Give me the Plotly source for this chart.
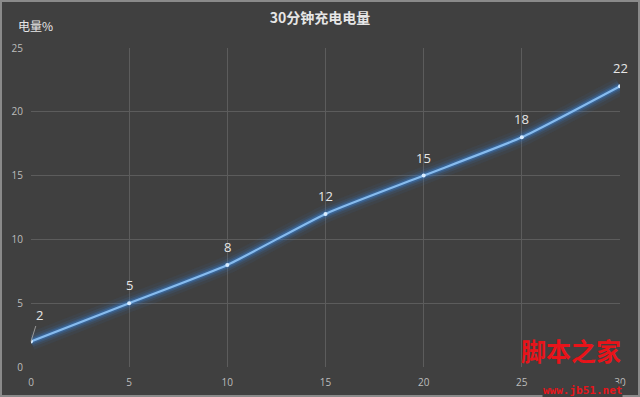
import plotly.graph_objects as go

minutes = [0, 5, 10, 15, 20, 25, 30]
charge = [2, 5, 8, 12, 15, 18, 22]
x_ticks = [0, 5, 10, 15, 20, 25, 30]
y_ticks = [0, 5, 10, 15, 20, 25]

title_text = "30分钟充电电量"
y_title = "电量%"

fig = go.Figure()
# glow layers
for w, a in [(18, 0.06), (12, 0.10), (8, 0.17), (5, 0.28)]:
    fig.add_trace(go.Scatter(x=minutes, y=charge, mode="lines",
                             line=dict(color=f"rgba(55,135,235,{a})", width=w, shape="spline", smoothing=0.5),
                             hoverinfo="skip", showlegend=False))
fig.add_trace(go.Scatter(x=minutes, y=charge, mode="lines+markers",
                         line=dict(color="#86bbee", width=2.2, shape="spline", smoothing=0.5),
                         marker=dict(color="#d8ecff", size=4),
                         showlegend=False))

lab_font = dict(size=13, color="#e6e6e6", family="Open Sans, Noto Sans CJK SC")
for i, (xv, yv) in enumerate(zip(minutes, charge)):
    if i == 0:
        fig.add_annotation(x=xv, y=yv, text=str(yv), showarrow=True, arrowhead=0,
                           arrowcolor="#999999", arrowwidth=1, ax=8, ay=-26, font=lab_font)
    else:
        fig.add_annotation(x=xv, y=yv, text=str(yv), showarrow=False, yshift=18, font=lab_font)

fig.add_annotation(xref="paper", yref="paper", x=-0.025, y=1.072, xanchor="left", yanchor="middle",
                   text=y_title, showarrow=False,
                   font=dict(size=12, color="#e6e6e6", family="Noto Sans CJK SC"))

# watermark
fig.add_annotation(xref="paper", yref="paper", x=1.005, y=-0.01, xanchor="right", yanchor="bottom",
                   text="<b>脚本之家</b>", showarrow=False,
                   font=dict(size=25, color="#e8141a", family="Noto Sans CJK SC"))
fig.add_annotation(xref="paper", yref="paper", x=1.005, y=-0.05, xanchor="right", yanchor="top",
                   text="<b>www.jb51.net</b>", showarrow=False, bgcolor="#404040", borderpad=0,
                   font=dict(size=11, color="#e8141a", family="DejaVu Sans Mono"))

fig.update_layout(
    width=640, height=397,
    paper_bgcolor="#404040", plot_bgcolor="#404040",
    margin=dict(l=31, r=20, t=48, b=30),
    title=dict(text="<b>" + title_text + "</b>", x=0.5, xanchor="center", y=0.955, yanchor="middle",
               font=dict(size=14, color="#e6e6e6", family="Noto Sans CJK SC")),
    xaxis=dict(range=[0, 30], tickvals=x_ticks, showgrid=True, gridcolor="#5c5c5c", gridwidth=1,
               zeroline=False, showline=False, ticks="", ticklabelstandoff=8, automargin=False,
               tickfont=dict(size=10, color="#bdbdbd", family="Open Sans")),
    yaxis=dict(range=[0, 25], tickvals=y_ticks, showgrid=True, gridcolor="#5c5c5c", gridwidth=1,
               zeroline=False, showline=False, ticks="", ticklabelstandoff=7, automargin=False,
               tickfont=dict(size=10, color="#bdbdbd", family="Open Sans")),
    shapes=[dict(type="rect", xref="paper", yref="paper", x0=-30/589, x1=1+19/589,
                 y0=-29/319, y1=1+47/319, line=dict(color="#8a8a8a", width=2), fillcolor="rgba(0,0,0,0)")],
)
fig.write_html("out.html", config={"displayModeBar": False},
               post_script="document.body.style.margin='0';")
